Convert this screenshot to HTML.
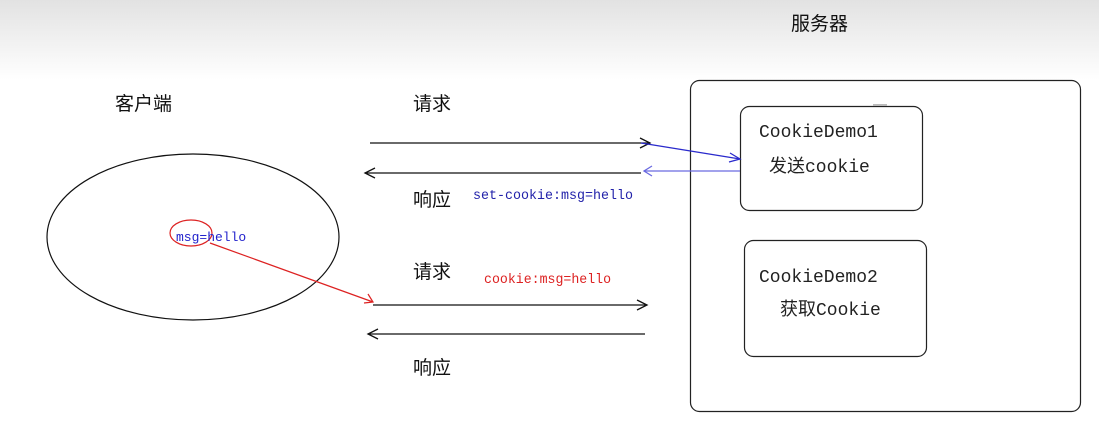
<!DOCTYPE html>
<html><head><meta charset="utf-8"><style>
html,body{margin:0;padding:0;width:1099px;height:438px;overflow:hidden;background:#fff}
</style></head><body>
<svg width="1099" height="438" xmlns="http://www.w3.org/2000/svg" style="display:block">
<defs>
<linearGradient id="g" x1="0" y1="0" x2="0" y2="1">
<stop offset="0" stop-color="#e2e2e2"/><stop offset="1" stop-color="#ffffff"/>
</linearGradient>
</defs>
<rect x="0" y="0" width="1099" height="80" fill="url(#g)"/>
<g font-family="'Liberation Sans','Noto Sans CJK SC',sans-serif" font-size="19" fill="#111">
<text x="791" y="30">服务器</text>
<text x="115" y="110">客户端</text>
<text x="413" y="110">请求</text>
<text x="413" y="206">响应</text>
<text x="413" y="278">请求</text>
<text x="413" y="374">响应</text>
</g>
<rect x="690.5" y="80.5" width="390" height="331" rx="9" fill="none" stroke="#222" stroke-width="1.2"/>
<rect x="740.5" y="106.5" width="182" height="104" rx="9" fill="none" stroke="#222" stroke-width="1.2"/>
<rect x="744.5" y="240.5" width="182" height="116" rx="9" fill="none" stroke="#222" stroke-width="1.2"/>
<rect x="873" y="104" width="14" height="2" fill="#bbb"/>
<g font-family="'Liberation Mono','Noto Sans CJK SC',monospace" font-size="18" fill="#222">
<text x="759" y="137">CookieDemo1</text>
<text x="769" y="172">发送cookie</text>
<text x="759" y="282">CookieDemo2</text>
<text x="780" y="315">获取Cookie</text>
</g>
<ellipse cx="193" cy="237" rx="146" ry="83" fill="none" stroke="#111" stroke-width="1.2"/>
<ellipse cx="191" cy="233" rx="21" ry="13" fill="none" stroke="#d22" stroke-width="1.2"/>
<text x="176" y="241" font-family="'Liberation Mono',monospace" font-size="13" fill="#2222cc">msg=hello</text>
<g stroke="#111" stroke-width="1.3" fill="none">
<line x1="370" y1="143" x2="650" y2="143"/><polyline points="640,138 650,143 640,148"/>
<line x1="365" y1="173" x2="641" y2="173"/><polyline points="375,168 365,173 375,178"/>
<line x1="373" y1="305" x2="647" y2="305"/><polyline points="637,300 647,305 637,310"/>
<line x1="368" y1="334" x2="645" y2="334"/><polyline points="378,329 368,334 378,339"/>
</g>
<g stroke="#2a2acc" stroke-width="1.3" fill="none">
<line x1="641" y1="143" x2="740" y2="159"/><polyline points="730,153 740,159 729,162"/>
</g>
<g stroke="#6a6ae0" stroke-width="1.3" fill="none">
<line x1="644" y1="171" x2="740" y2="171"/><polyline points="652,166 644,171 652,176"/>
</g>
<g stroke="#d22" stroke-width="1.2" fill="none">
<line x1="210" y1="243" x2="373" y2="302"/><polyline points="368,294 373,302 364,303"/>
</g>
<text x="473" y="199" font-family="'Liberation Mono',monospace" font-size="14" fill="#2222aa" textLength="160" lengthAdjust="spacingAndGlyphs">set-cookie:msg=hello</text>
<text x="484" y="283" font-family="'Liberation Mono',monospace" font-size="14" fill="#d22" textLength="127" lengthAdjust="spacingAndGlyphs">cookie:msg=hello</text>
</svg>
</body></html>
